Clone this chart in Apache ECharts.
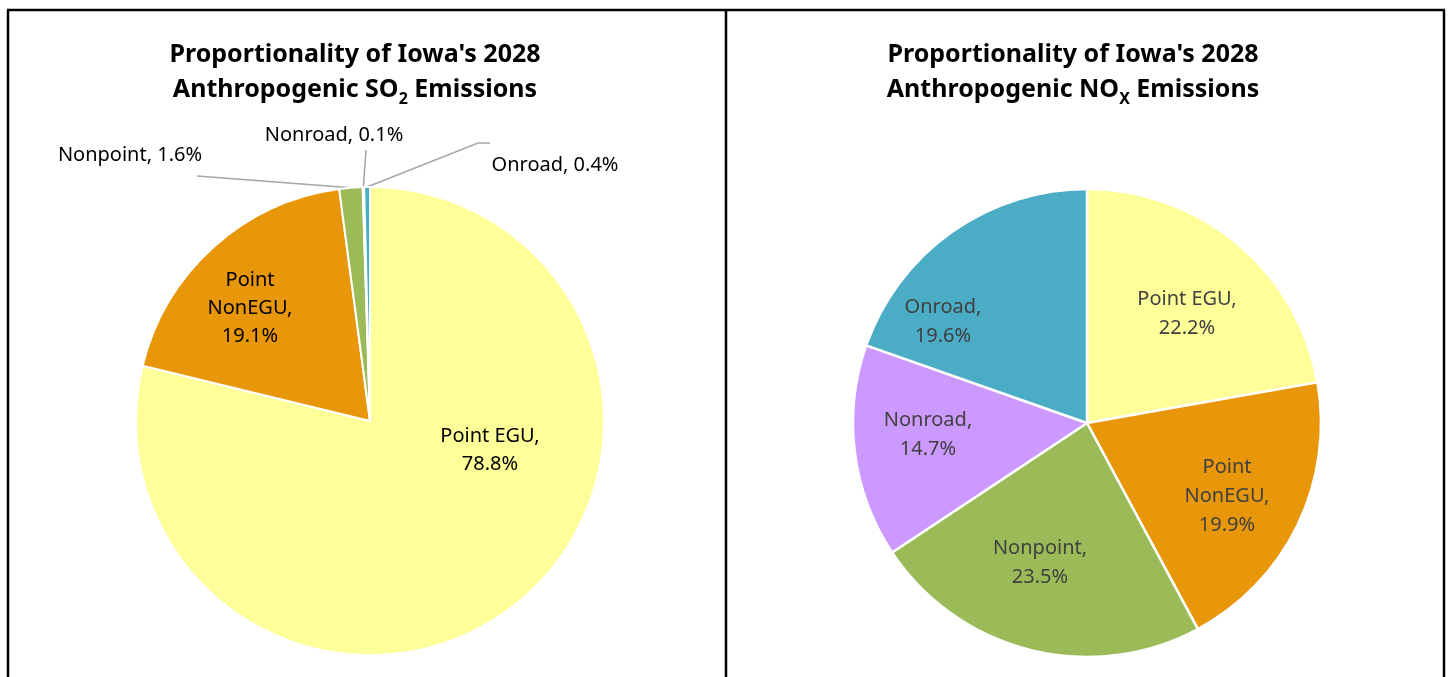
<!DOCTYPE html>
<html>
<head>
<meta charset="utf-8">
<script src="https://cdn.jsdelivr.net/npm/echarts@6/dist/echarts.min.js"></script>
<style>
  html, body { margin: 0; padding: 0; background: #fff; }
  #main { width: 1450px; height: 677px; }
</style>
</head>
<body>
<div id="main"></div>
<script>
// categories, clockwise from 12 o'clock
const categories = ["Point EGU", "Point NonEGU", "Nonpoint", "Nonroad", "Onroad"];
const so2Values = [78.8, 19.1, 1.6, 0.1, 0.4];
const noxValues = [22.2, 19.9, 23.5, 14.7, 19.6];
const sliceColors = ["#FFFF99", "#E8970A", "#9BBB59", "#CC99FF", "#4BACC6"];

// label wrapping as in the original (name, value)
const so2LabelNames = ["Point EGU,\n", "Point\nNonEGU,\n", "Nonpoint, ", "Nonroad, ", "Onroad, "];
const noxLabelNames = ["Point EGU,\n", "Point\nNonEGU,\n", "Nonpoint,\n", "Nonroad,\n", "Onroad,\n"];
const so2Inside = [true, true, false, false, false];

// label centres, px
const so2LabelPos = [[490, 450], [250, 308], [130, 155], [334, 135], [555, 165]];
const noxLabelPos = [[1187, 314], [1227, 496], [1040, 563], [928, 435], [943, 322]];
// leader line bends/ends for the small SO2 slices (after the point on the slice)
const so2LineEnds = [null, null, [[197, 176]], [[366, 150]], [[478, 143], [490, 143]]];

const font = '"Noto Sans", sans-serif';

const chart = echarts.init(document.getElementById("main"));

function titleText(gas, sub) {
  return "Proportionality of Iowa's 2028\n{m|Anthropogenic " + gas + "}{s|" + sub + "}{m| Emissions}";
}

const titleRich = {
  m: { fontSize: 25, fontWeight: "bold", fontFamily: font, color: "#000", lineHeight: 35 },
  s: { fontSize: 16, fontWeight: "bold", fontFamily: font, color: "#000", lineHeight: 24, verticalAlign: "bottom" }
};

const option = {
  animation: false,
  backgroundColor: "#fff",
  color: sliceColors,
  title: [
    {
      text: titleText("SO", "2"),
      left: 350, top: 32, textAlign: "center",
      textStyle: { fontSize: 25, fontWeight: "bold", fontFamily: font, color: "#000", lineHeight: 35, rich: titleRich }
    },
    {
      text: titleText("NO", "X"),
      left: 1068, top: 32, textAlign: "center",
      textStyle: { fontSize: 25, fontWeight: "bold", fontFamily: font, color: "#000", lineHeight: 35, rich: titleRich }
    }
  ],
  graphic: [
    { type: "line", shape: { x1: 7, y1: 10, x2: 1445, y2: 10 }, style: { stroke: "#000", lineWidth: 2.5 } },
    { type: "line", shape: { x1: 8, y1: 10, x2: 8, y2: 677 }, style: { stroke: "#000", lineWidth: 2.5 } },
    { type: "line", shape: { x1: 726, y1: 10, x2: 726, y2: 677 }, style: { stroke: "#000", lineWidth: 2.5 } },
    { type: "line", shape: { x1: 1444, y1: 10, x2: 1444, y2: 677 }, style: { stroke: "#000", lineWidth: 2.5 } }
  ],
  series: [
    {
      type: "pie",
      center: [370, 421],
      radius: 234,
      startAngle: 90,
      clockwise: true,
      avoidLabelOverlap: false,
      itemStyle: { borderColor: "#fff", borderWidth: 2 },
      label: {
        fontFamily: font, fontSize: 20, color: "#000", lineHeight: 28,
        formatter: p => so2LabelNames[p.dataIndex] + p.value.toFixed(1) + "%"
      },
      labelLine: { lineStyle: { color: "#A6A6A6", width: 1.5 }, length: 15, length2: 10 },
      labelLayout: p => {
        const i = p.dataIndex;
        const out = {
          x: so2LabelPos[i][0],
          y: so2LabelPos[i][1],
          align: "center",
          verticalAlign: "middle"
        };
        if (so2LineEnds[i] && p.labelLinePoints) {
          out.labelLinePoints = [p.labelLinePoints[0]].concat(so2LineEnds[i]);
        }
        return out;
      },
      data: categories.map((c, i) => ({
        name: c,
        value: so2Values[i],
        label: { position: so2Inside[i] ? "inside" : "outside" },
        labelLine: { show: !so2Inside[i] }
      }))
    },
    {
      type: "pie",
      center: [1087, 423],
      radius: 234,
      startAngle: 90,
      clockwise: true,
      avoidLabelOverlap: false,
      itemStyle: { borderColor: "#fff", borderWidth: 2.5 },
      label: {
        position: "inside",
        fontFamily: font, fontSize: 20, color: "#404040", lineHeight: 29,
        formatter: p => noxLabelNames[p.dataIndex] + p.value.toFixed(1) + "%"
      },
      labelLine: { show: false },
      labelLayout: p => ({
        x: noxLabelPos[p.dataIndex][0],
        y: noxLabelPos[p.dataIndex][1],
        align: "center",
        verticalAlign: "middle"
      }),
      data: categories.map((c, i) => ({ name: c, value: noxValues[i] }))
    }
  ]
};

chart.setOption(option);
</script>
</body>
</html>
